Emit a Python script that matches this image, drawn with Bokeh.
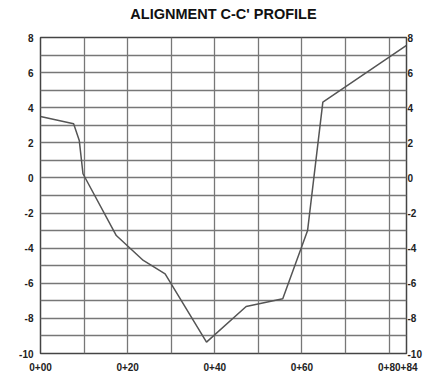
from bokeh.plotting import figure
from bokeh.models import Range1d, FixedTicker, LinearAxis, Title
from bokeh.embed import file_html
from bokeh.resources import INLINE

# Profile data (station in m, elevation)
station = [0, 7.6, 8.9, 9.75, 17.4, 23.6, 28.6, 38.1, 47.2, 55.6, 61.3, 64.8, 84]
elev = [3.5, 3.09, 2.13, 0.24, -3.28, -4.7, -5.46, -9.35, -7.32, -6.88, -2.99, 4.32, 7.55]

x_ticks = [0, 20, 40, 60, 82]
x_labels = {0: "0+00", 20: "0+20", 40: "0+40", 60: "0+60", 82: "0+80+84"}
x_grid = [0, 10, 20, 30, 40, 50, 60, 70, 80]
y_ticks = [-10, -8, -6, -4, -2, 0, 2, 4, 6, 8]
y_labels = {t: str(t) for t in y_ticks}
y_grid = list(range(-10, 9))

p = figure(width=425, height=379, output_backend="svg", toolbar_location=None,
           title=None,
           x_range=Range1d(0, 84), y_range=Range1d(-10, 8),
           x_axis_location=None, y_axis_location=None,
           min_border_left=40, min_border_right=19, min_border_top=37, min_border_bottom=26)

# spacer between the title and the plot frame
p.add_layout(Title(text=" ", text_font_size="12px", standoff=0), "above")
p.add_layout(Title(text="ALIGNMENT C-C' PROFILE", align="center",
                   text_font="Liberation Sans", text_font_size="14.5px",
                   text_font_style="bold", text_color="#111111", standoff=0),
             "above")

p.outline_line_color = "#444444"
p.outline_line_width = 1.5

label_font = "Liberation Sans"

bottom = LinearAxis(ticker=FixedTicker(ticks=x_ticks))
bottom.major_label_overrides = dict(x_labels)
left = LinearAxis(ticker=FixedTicker(ticks=y_ticks))
left.major_label_overrides = dict(y_labels)
right = LinearAxis(ticker=FixedTicker(ticks=y_ticks))
right.major_label_overrides = dict(y_labels)
for ax in (bottom, left, right):
    ax.axis_line_color = None
    ax.major_tick_line_color = None
    ax.minor_tick_line_color = None
    ax.major_tick_out = 0
    ax.major_tick_in = 0
    ax.minor_tick_out = 0
    ax.minor_tick_in = 0
    ax.major_label_text_font = label_font
    ax.major_label_text_font_size = "10px"
    ax.major_label_text_font_style = "bold"
    ax.major_label_text_color = "#222222"
bottom.major_label_standoff = 9
left.major_label_standoff = 7
right.major_label_standoff = 1
p.add_layout(bottom, "below")
p.add_layout(left, "left")
p.add_layout(right, "right")

p.xgrid.ticker = FixedTicker(ticks=x_grid)
p.ygrid.ticker = FixedTicker(ticks=y_grid)
for g in (p.xgrid, p.ygrid):
    g.grid_line_color = "#777777"
    g.grid_line_width = 1.3
    g.grid_line_alpha = 1.0

p.line(station, elev, line_color="#555555", line_width=1.5)

open("out.html", "w").write(file_html(p, INLINE))
